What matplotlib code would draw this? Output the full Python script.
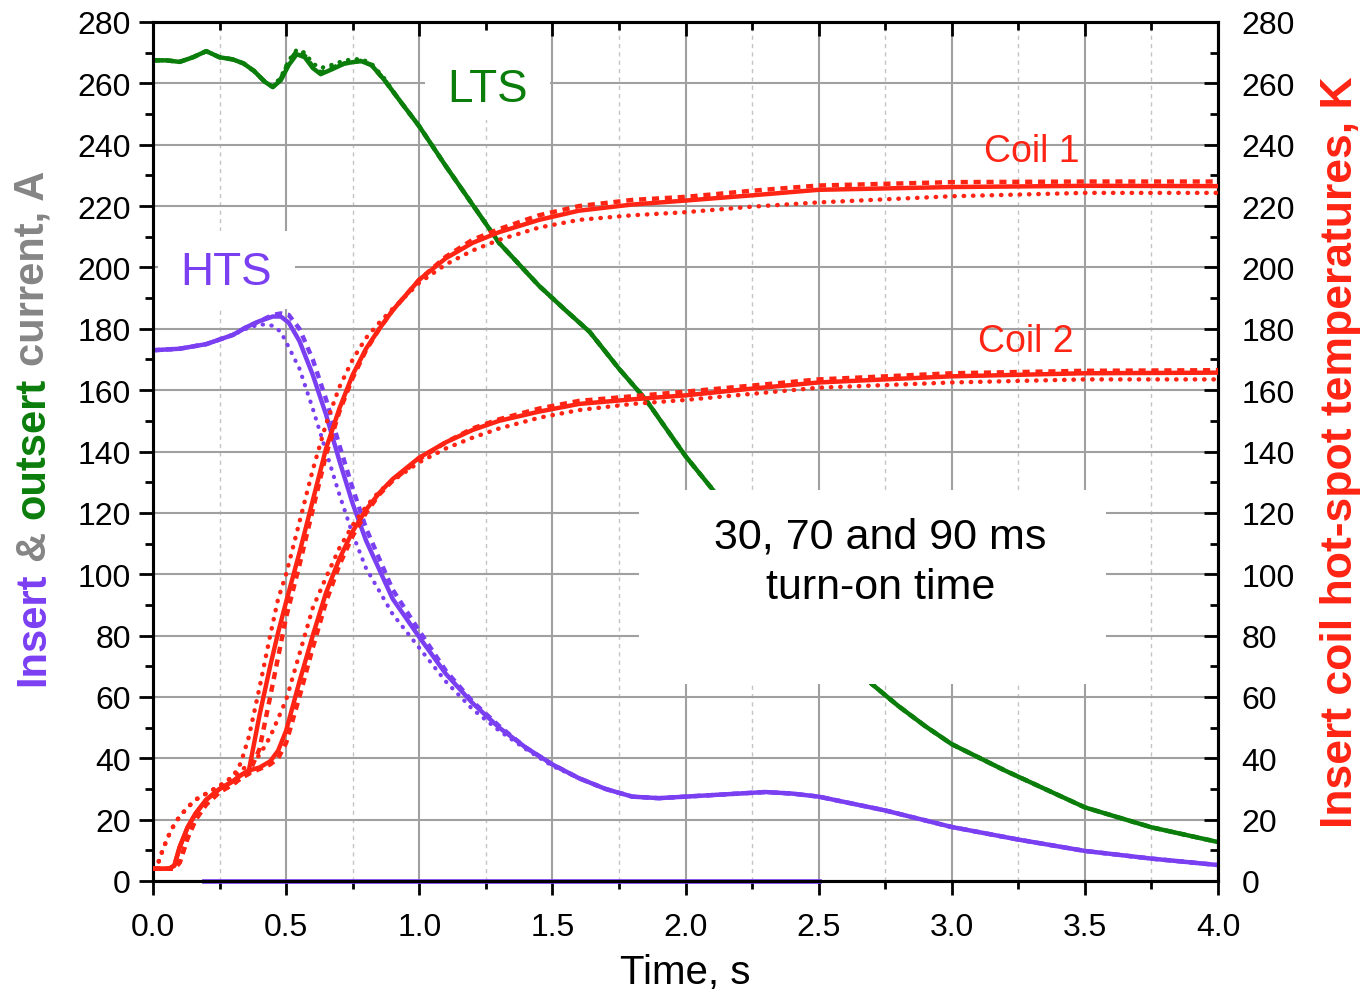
import numpy as np
import matplotlib
matplotlib.use('Agg')
import matplotlib.pyplot as plt
from matplotlib.ticker import MultipleLocator
from matplotlib.patches import Rectangle
from matplotlib.font_manager import FontProperties

plt.rcParams['font.family'] = ['Liberation Sans', 'DejaVu Sans']

# HTS (insert) current, A -- 30 / 70 / 90 ms turn-on
t_hts = [0, 0.1, 0.2, 0.3, 0.35, 0.4, 0.45, 0.48, 0.51, 0.55, 0.6, 0.65, 0.7, 0.75, 0.8, 0.9, 1.0, 1.1,
         1.2, 1.3, 1.4, 1.5, 1.6, 1.7, 1.8, 1.9, 2.0, 2.1, 2.2, 2.3, 2.4, 2.5, 2.75, 3.0, 3.25, 3.5,
         3.75, 4.0]
hts_solid = [173, 173.5, 175, 178, 180.5, 182.5, 184, 184, 182, 176, 165, 152, 137, 123, 111, 92, 79.5,
             67.5, 58, 50, 43.5, 38, 33.5, 30, 27.5, 27, 27.5, 28, 28.5, 29, 28.5, 27.5, 23, 17.6, 13.5,
             9.8, 7.3, 5.2]
hts_dash = [173, 173.5, 175, 178, 180.5, 182.5, 184.5, 185, 184.5, 180, 170, 157, 142, 128, 115, 95, 81.5,
            68.5, 58.5, 50.5, 43.5, 38, 33.5, 30, 27.5, 27, 27.5, 28, 28.5, 29, 28.5, 27.5, 23, 17.6,
            13.5, 9.8, 7.3, 5.2]
hts_dot = [173, 173.5, 175, 178, 180, 181.5, 181, 179, 174, 167, 154, 140, 126, 113, 102, 87, 76,
           65, 56, 49, 43, 37.5, 33.5, 30, 27.5, 27, 27.5, 28, 28.5, 29, 28.5, 27.5, 23, 17.6, 13.5,
           9.8, 7.3, 5.2]
t_hts_zero = [0.19, 2.5]
hts_zero = [0, 0]

# LTS (outsert) current, A
t_lts = [0, 0.05, 0.1, 0.15, 0.2, 0.25, 0.3, 0.34, 0.38, 0.42, 0.45, 0.48, 0.51, 0.54, 0.57, 0.6, 0.63,
         0.67, 0.72, 0.78, 0.82, 0.87, 0.93, 1.0, 1.1, 1.2, 1.3, 1.45, 1.55, 1.64, 1.75, 1.85, 2.0, 2.1,
         2.2, 2.4, 2.6, 2.7, 2.8, 2.9, 3.0, 3.2, 3.5, 3.75, 4.0]
lts_solid = [267.5, 267.5, 267, 268.5, 270.5, 268.5, 267.8, 266.5, 264, 260.5, 258.8, 261, 266, 269.5,
             268.5, 265, 263, 264.5, 266.5, 267.3, 266, 261, 254, 246, 233, 220.5, 208, 194, 186, 179,
             167, 157, 138.5, 127.8, 117, 96, 74, 64.2, 57, 50.5, 44.6, 36, 24, 17.5, 12.7]
lts_dash = [267.5, 267.5, 267, 268.5, 270.5, 268.5, 267.8, 266.5, 264, 260.5, 258.8, 261.5, 267, 270.5,
            269, 265.5, 263.5, 265, 266.5, 267.3, 266, 261, 254, 246, 233, 220.5, 208, 194, 186, 179,
            167, 157, 138.5, 127.8, 117, 96, 74, 64.2, 57, 50.5, 44.6, 36, 24, 17.5, 12.7]
lts_dot = [267.5, 267.5, 267, 268.5, 270.5, 268.5, 267.8, 266.5, 264, 260.5, 259, 262, 267.5, 271,
           270, 266.5, 265, 266, 267.5, 268, 266.5, 261.5, 254, 246, 233, 220.5, 208, 194, 186, 179,
           167, 157, 138.5, 127.8, 117, 96, 74, 64.2, 57, 50.5, 44.6, 36, 24, 17.5, 12.7]

# insert coil hot-spot temperatures, K
t_coil = [0, 0.02, 0.04, 0.06, 0.08, 0.1, 0.13, 0.16, 0.2, 0.25, 0.3, 0.33, 0.36, 0.4, 0.44, 0.47, 0.5,
          0.55, 0.6, 0.65, 0.7, 0.75, 0.8, 0.85, 0.9, 1.0, 1.1, 1.2, 1.3, 1.45, 1.6, 1.8, 2.0, 2.25, 2.5,
          3.0, 3.5, 4.0]
coil1_solid = [4, 4, 4, 4, 5, 11, 17.5, 22, 26.5, 30, 32.5, 34.5, 36, 54, 70, 81, 91, 107, 124, 141, 154,
               165, 173.5, 180, 186, 196, 203, 208, 211.5, 215.5, 218.5, 220.5, 221.8, 223.5, 225.3,
               226.2, 226.6, 226.5]
coil1_dash = [4, 4, 4, 4, 4, 6, 14, 20, 25, 29, 31.5, 33.5, 35, 43, 60, 73, 86, 103, 121, 139, 153,
              164, 173, 180, 186, 196, 203.5, 209, 212.5, 217, 220, 222, 223, 225, 226.7,
              227.8, 228, 228]
coil1_dot = [4, 6, 11, 15, 18.5, 21, 24, 26.5, 28.5, 31, 34, 38.5, 47, 63, 80, 92, 100, 117, 134, 149, 161,
             170, 177, 182, 186.5, 195, 201, 205.5, 209, 213, 215.5, 217, 218, 219.8, 221.2,
             223.2, 224.3, 224.3]
coil2_solid = [4, 4, 4, 4, 5, 11, 17.5, 22, 26.5, 30, 32.5, 34.5, 36, 37, 39, 42.5, 49, 65, 80, 94, 105,
               114, 121, 126.5, 131, 138, 143, 147, 150, 153, 155.5, 157, 158.3, 160.5, 162.5,
               164.5, 165.5, 165.7]
coil2_dash = [4, 4, 4, 4, 4, 6, 14, 20, 25, 29, 31.5, 33.5, 35, 36.5, 38, 40, 45, 60, 76, 91, 103,
              112.5, 120, 126, 130.5, 137.5, 143, 147.5, 150.5, 154, 156.5, 158, 159.5, 161.5, 163.5,
              165.5, 166.3, 166.5]
coil2_dot = [4, 6, 11, 15, 18.5, 21, 24, 26.5, 28.5, 31, 34, 36, 38, 41, 47, 53, 59, 74, 89, 99, 108.5,
             116, 122, 127, 130.5, 136.5, 141, 144.5, 147.5, 151, 153.5, 155.5, 156.8, 158.8, 160.8,
             162.5, 163.5, 163.5]

purple = '#7b3ff2'
green = '#0b7d0b'
red = '#ff2414'
gray = '#858585'

fig = plt.figure(figsize=(13.64, 9.95), dpi=100)
ax = fig.add_axes([153 / 1364, 1 - 882 / 995, 1065 / 1364, 859 / 995])
ax2 = ax.twinx()

lw = 3.2
dash = (0, (1.6, 1.3))
dot = (0, (0.1, 2.0))

ax.plot(t_hts, hts_solid, color=purple, lw=lw, zorder=3)
ax.plot(t_hts, hts_dash, color=purple, lw=lw, ls=dash, zorder=3)
ax.plot(t_hts, hts_dot, color=purple, lw=3, ls=dot, dash_capstyle='round', zorder=3)
# flat trace lying on the time axis: purple with black dots showing through
ax.plot(t_hts_zero, hts_zero, color=purple, lw=3.4, clip_on=False, zorder=5)
ax.plot(t_hts_zero, hts_zero, color='black', lw=1.3, ls=(0, (1, 2)), clip_on=False, zorder=5)

ax.plot(t_lts, lts_solid, color=green, lw=lw, zorder=3)
ax.plot(t_lts, lts_dash, color=green, lw=lw, ls=dash, zorder=3)
ax.plot(t_lts, lts_dot, color=green, lw=3, ls=dot, dash_capstyle='round', zorder=3)

for sol, das, dt in [(coil1_solid, coil1_dash, coil1_dot), (coil2_solid, coil2_dash, coil2_dot)]:
    ax2.plot(t_coil, sol, color=red, lw=lw, zorder=3)
    ax2.plot(t_coil, das, color=red, lw=lw, ls=dash, zorder=3)
    ax2.plot(t_coil, dt, color=red, lw=3.2, ls=dot, dash_capstyle='round', zorder=3)

for a in (ax, ax2):
    a.set_xlim(0, 4.0)
    a.set_ylim(0, 280)
    for s in a.spines.values():
        s.set_linewidth(2.2)

ax.xaxis.set_major_locator(MultipleLocator(0.5))
ax.xaxis.set_minor_locator(MultipleLocator(0.25))
ax.yaxis.set_major_locator(MultipleLocator(20))
ax.yaxis.set_minor_locator(MultipleLocator(10))
ax2.yaxis.set_major_locator(MultipleLocator(20))
ax2.yaxis.set_minor_locator(MultipleLocator(10))
ax.xaxis.set_major_formatter(matplotlib.ticker.FormatStrFormatter('%.1f'))

ax.tick_params(which='both', direction='out', width=2, labelsize=23, top=False, right=False)
ax.tick_params(which='major', length=10, pad=6)
ax.tick_params(axis='x', which='major', pad=12)
ax.tick_params(which='minor', length=5.5)
ax2.xaxis.set_visible(True)
ax2.tick_params(axis='x', which='both', direction='in', top=True, bottom=False, labeltop=False,
                labelbottom=False, width=2)
ax2.tick_params(axis='y', which='both', direction='in', width=2, labelsize=23, pad=17)
ax2.tick_params(which='major', length=10)
ax2.tick_params(which='minor', length=5.5)

ax.grid(which='major', color='#a0a0a0', lw=1.5, zorder=0)
ax.grid(which='minor', axis='x', color='#c4c4c4', lw=1, ls=(0, (3, 3)), zorder=0)
ax.set_axisbelow(True)

ax.set_xlabel('Time, s', fontsize=29, labelpad=8)
ax2.set_ylabel('Insert coil hot-spot temperatures, K', fontsize=32, fontweight='bold', color=red,
               labelpad=18)

# white boxes behind labels
for x0, y0, w, h in [(0.255, 0.886, 0.118, 0.104), (0.005, 0.666, 0.128, 0.091), (0.456, 0.229, 0.439, 0.226)]:
    ax.add_patch(Rectangle((x0, y0), w, h, transform=ax.transAxes, facecolor='white', edgecolor='none',
                           zorder=4))
ax.text(0.314, 0.922, 'LTS', transform=ax.transAxes, fontsize=33, color=green, ha='center', va='center',
        zorder=6)
ax.text(0.069, 0.709, 'HTS', transform=ax.transAxes, fontsize=33, color=purple, ha='center', va='center',
        zorder=6)
ax.text(0.683, 0.372, '30, 70 and 90 ms\nturn-on time', transform=ax.transAxes, fontsize=31,
        ha='center', va='center', linespacing=1.35, zorder=6)
ax2.text(3.30, 238, 'Coil 1', fontsize=27, color=red, ha='center', va='center', zorder=6)
ax2.text(3.28, 176, 'Coil 2', fontsize=27, color=red, ha='center', va='center', zorder=6)

# multi-coloured left axis label
fig.canvas.draw()
r = fig.canvas.get_renderer()
fp = FontProperties(family=['Liberation Sans'], size=30, weight='bold')
full = 'Insert & outsert current, A'
parts = [('Insert', 0, purple), ('&', 7, gray), ('outsert', 9, green), ('current, A', 17, gray)]
y_start = 995 - 686
for s, i0, c in parts:
    wtot = r.get_text_width_height_descent(full[:i0 + len(s)], fp, ismath=False)[0]
    wp = r.get_text_width_height_descent(s, fp, ismath=False)[0]
    fig.text(33 / 1364, (y_start + wtot - wp) / 995, s, rotation=90, color=c, fontproperties=fp,
             ha='center', va='bottom')

fig.savefig('out.png', dpi=100)
